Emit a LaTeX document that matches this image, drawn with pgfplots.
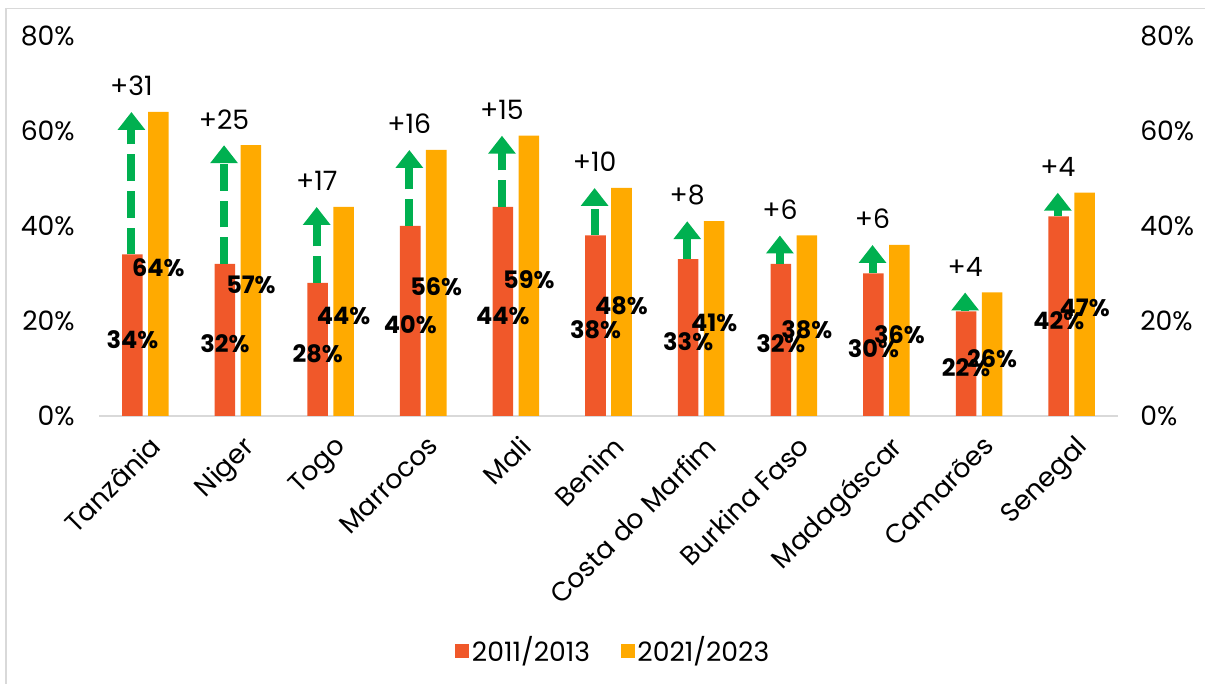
\documentclass[border=0pt]{standalone}
\usepackage{fontspec}
\setmainfont{Poppins}
\usepackage{pgfplots}
\pgfplotsset{compat=1.18}
\usepackage{pgfplotstable}
\usetikzlibrary{arrows.meta}
\definecolor{cred}{HTML}{F0582A}
\definecolor{corange}{HTML}{FFAA00}
\definecolor{cgreen}{HTML}{00B050}
\definecolor{cframe}{HTML}{D9D9D9}

\pgfplotstableread{
x red orange diff
0 34 64 31
1 32 57 25
2 28 44 17
3 40 56 16
4 44 59 15
5 38 48 10
6 33 41 8
7 32 38 6
8 30 36 6
9 22 26 4
10 42 47 4
}\data

\begin{document}
\fontsize{20}{24}\selectfont
\begin{tikzpicture}
\useasboundingbox (0,0) rectangle (903.75pt,513pt);
\draw[cframe, line width=1.2pt] (4.5pt,0) -- (4.5pt,506.5pt) -- (903.75pt,506.5pt);

\begin{axis}[
  at={(74.25pt,201pt)}, anchor=south west,
  scale only axis, width=764.25pt, height=285pt,
  xmin=-0.5, xmax=10.5, ymin=0, ymax=80,
  axis x line*=bottom, axis y line*=left,
  x axis line style={draw=cframe, line width=1.5pt, -},
  y axis line style={draw=none},
  major tick length=0pt,
  xtick={0,...,10},
  xticklabels={Tanzânia, Niger, Togo, Marrocos, Mali, Benim, Costa do Marfim, Burkina Faso, Madagáscar, Camarões, Senegal},
  xticklabel style={rotate=45, anchor=north east, inner sep=0pt, yshift=-11pt, xshift=-8pt},
  ytick={0,20,40,60,80},
  yticklabel={\pgfmathprintnumber{\tick}\%},
  yticklabel style={inner sep=0pt, xshift=-18pt},
  /pgf/number format/assume math mode=true,
  legend style={at={(0.505,-0.618)}, anchor=center, draw=none, fill=none,
    legend columns=2, /tikz/every even column/.append style={column sep=21pt},
    inner sep=0pt},
  legend image code/.code={\draw[#1, draw=none] (0pt,-5.25pt) rectangle (10.5pt,5.25pt);},
  clip=false,
]
\addplot[ybar, bar width=15.4pt, bar shift=-9.75pt, fill=cred, draw=none]
  table[x=x, y=red] {\data};
\addlegendentry{2011/2013}
\addplot[ybar, bar width=15.4pt, bar shift=9.75pt, fill=corange, draw=none]
  table[x=x, y=orange] {\data};
\addlegendentry{2021/2023}

% green arrows
\addplot[forget plot, cgreen, line width=6pt, dash pattern=on 20pt off 7.5pt,
  -{Triangle[width=20pt,length=13.5pt]},
  quiver={u=0, v=\thisrow{orange}-\thisrow{red}}]
  table[x expr=\thisrow{x}-0.15, y=red] {\data};

% difference labels
\addplot[forget plot, draw=none, mark=none, color=black,
  point meta=explicit,
  nodes near coords={+\pgfmathprintnumber{\pgfplotspointmeta}},
  nodes near coords style={anchor=center, yshift=19.5pt, text=black}]
  table[x expr=\thisrow{x}-0.15, y=orange, meta=diff] {\data};

% value labels red
\addplot[forget plot, draw=none, mark=none, color=black,
  point meta=explicit,
  nodes near coords={\pgfmathprintnumber{\pgfplotspointmeta}\%},
  nodes near coords style={anchor=center, yshift=-3pt, text=black, font=\fontsize{18}{22}\selectfont\bfseries}]
  table[x expr=\thisrow{x}-0.14, y expr=\thisrow{red}/2, meta=red] {\data};

% value labels orange
\addplot[forget plot, draw=none, mark=none, color=black,
  point meta=explicit,
  nodes near coords={\pgfmathprintnumber{\pgfplotspointmeta}\%},
  nodes near coords style={anchor=center, yshift=-3pt, text=black, font=\fontsize{18}{22}\selectfont\bfseries}]
  table[x expr=\thisrow{x}+0.14, y expr=\thisrow{orange}/2, meta=orange] {\data};
\end{axis}

\begin{axis}[
  at={(74.25pt,201pt)}, anchor=south west,
  scale only axis, width=764.25pt, height=285pt,
  xmin=-0.5, xmax=10.5, ymin=0, ymax=80,
  hide x axis,
  axis y line*=right,
  y axis line style={draw=none},
  major tick length=0pt,
  ytick={0,20,40,60,80},
  yticklabel={\pgfmathprintnumber{\tick}\%},
  yticklabel style={inner sep=0pt, xshift=16.5pt},
  /pgf/number format/assume math mode=true,
]
\addplot[draw=none, mark=none] coordinates {(0,0)};
\end{axis}
\end{tikzpicture}
\end{document}
